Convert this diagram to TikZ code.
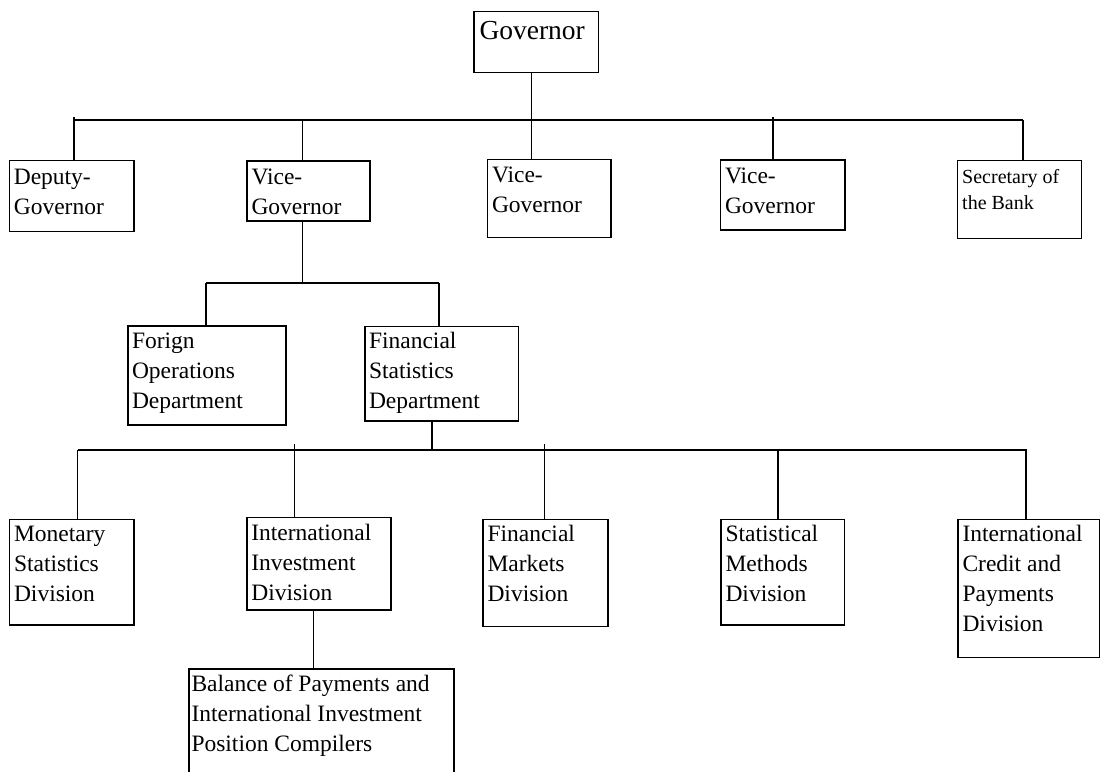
\documentclass[tikz,border=0pt]{standalone}
\usepackage{fontspec}
\setmainfont{Liberation Serif}
\tikzset{
  obox/.style={draw, line width=1.5pt, anchor=north west, inner sep=0pt, outer sep=0pt, rectangle},
  conn/.style={line width=1.5pt}
}
\newcommand\nf{\fontsize{23.5}{30}\selectfont}
% #1 name, #2 x, #3 y, #4 w, #5 h, #6 font, #7 first baseline, #8 indent, #9 text
\newcommand\orgbox[9]{\node[obox, minimum width=#4pt, minimum height=#5pt] (#1) at (#2,#3)
  {\parbox[t][#5pt][t]{#4pt}{#6\raggedright\leftskip=#8pt\rule{0pt}{#7pt}#9}};}
\begin{document}
\begin{tikzpicture}[x=1pt,y=-1pt]
\clip (0,0) rectangle (1100,771);
\fill[white] (0,0) rectangle (1100,771);
% boxes
\orgbox{gov}{474}{11.7}{124.3}{61}{\fontsize{27.5}{32}\selectfont}{27.6}{5.5}{Governor}
\orgbox{dep}{9.3}{160.7}{124.7}{71}{\nf}{23.3}{4.5}{Deputy-\\Governor}
\orgbox{vga}{247}{161}{123}{60}{\nf}{23}{4.5}{Vice-\\Governor}
\orgbox{vgb}{487.5}{159.3}{123.5}{78.4}{\nf}{23}{4.5}{Vice-\\Governor}
\orgbox{vgc}{720.5}{160}{124.3}{70}{\nf}{23}{4.5}{Vice-\\Governor}
\orgbox{sec}{957.7}{160.7}{124}{77.6}{\fontsize{20}{26}\selectfont}{22.6}{4.5}{Secretary of\\the Bank}
\orgbox{fod}{128}{326}{158}{99}{\nf}{22}{4}{Forign\\Operations\\Department}
\orgbox{fsd}{365}{326.7}{153.6}{94.3}{\nf}{21.5}{4}{Financial\\Statistics\\Department}
\orgbox{mon}{9.5}{519.3}{124.5}{105.7}{\nf}{22.4}{4.5}{Monetary\\Statistics\\Division}
\orgbox{iid}{246.8}{517.7}{144.2}{92.3}{\nf}{23}{4.5}{International\\Investment\\Division}
\orgbox{fmd}{483}{519.3}{125}{107.4}{\nf}{22.4}{4.5}{Financial\\Markets\\Division}
\orgbox{smd}{721}{519.3}{123.6}{105.7}{\nf}{22.4}{4.5}{Statistical\\Methods\\Division}
\orgbox{icp}{958}{519.3}{141.5}{138.4}{\nf}{22.4}{4.5}{International\\Credit and\\Payments\\Division}
\orgbox{bop}{189}{669}{265}{112}{\nf}{22.7}{2.5}{Balance of Payments and\\International Investment\\Position Compilers}
% first level
\coordinate (b1l) at (74,120);
\coordinate (b1r) at (1023,120);
\coordinate (t1) at (74,117);
\coordinate (c2) at (302.5,120);
\coordinate (c3) at (531.7,0);
\coordinate (c4) at (773,117);
\draw[conn] (b1l) -- (b1r);
\draw[conn] (t1) -- (t1 |- dep.north);
\draw[conn] (c2) -- (c2 |- vga.north);
\draw[conn] (c3 |- gov.south) -- (c3 |- vgb.north);
\draw[conn] (c4) -- (c4 |- vgc.north);
\draw[conn] (b1r) -- (b1r |- sec.north);
% second level
\coordinate (b2l) at (206,283);
\coordinate (b2r) at (439,283);
\coordinate (d1) at (302.5,283);
\draw[conn] (d1 |- vga.south) -- (d1);
\draw[conn] (b2l) -- (b2r);
\draw[conn] (b2l) -- (b2l |- fod.north);
\draw[conn] (b2r) -- (b2r |- fsd.north);
% third level
\coordinate (b3l) at (77.5,450);
\coordinate (b3r) at (1027,450);
\coordinate (e1) at (432,450);
\coordinate (e2) at (294.6,444);
\coordinate (e3) at (544.6,444);
\coordinate (e4) at (778,450);
\coordinate (e5) at (1026,450);
\coordinate (f1) at (313.4,0);
\draw[conn] (e1 |- fsd.south) -- (e1);
\draw[conn] (b3l) -- (b3r);
\draw[conn] (b3l) -- (b3l |- mon.north);
\draw[conn] (e2) -- (e2 |- iid.north);
\draw[conn] (e3) -- (e3 |- fmd.north);
\draw[conn] (e4) -- (e4 |- smd.north);
\draw[conn] (e5) -- (e5 |- icp.north);
\draw[conn] (f1 |- iid.south) -- (f1 |- bop.north);
\end{tikzpicture}
\end{document}
